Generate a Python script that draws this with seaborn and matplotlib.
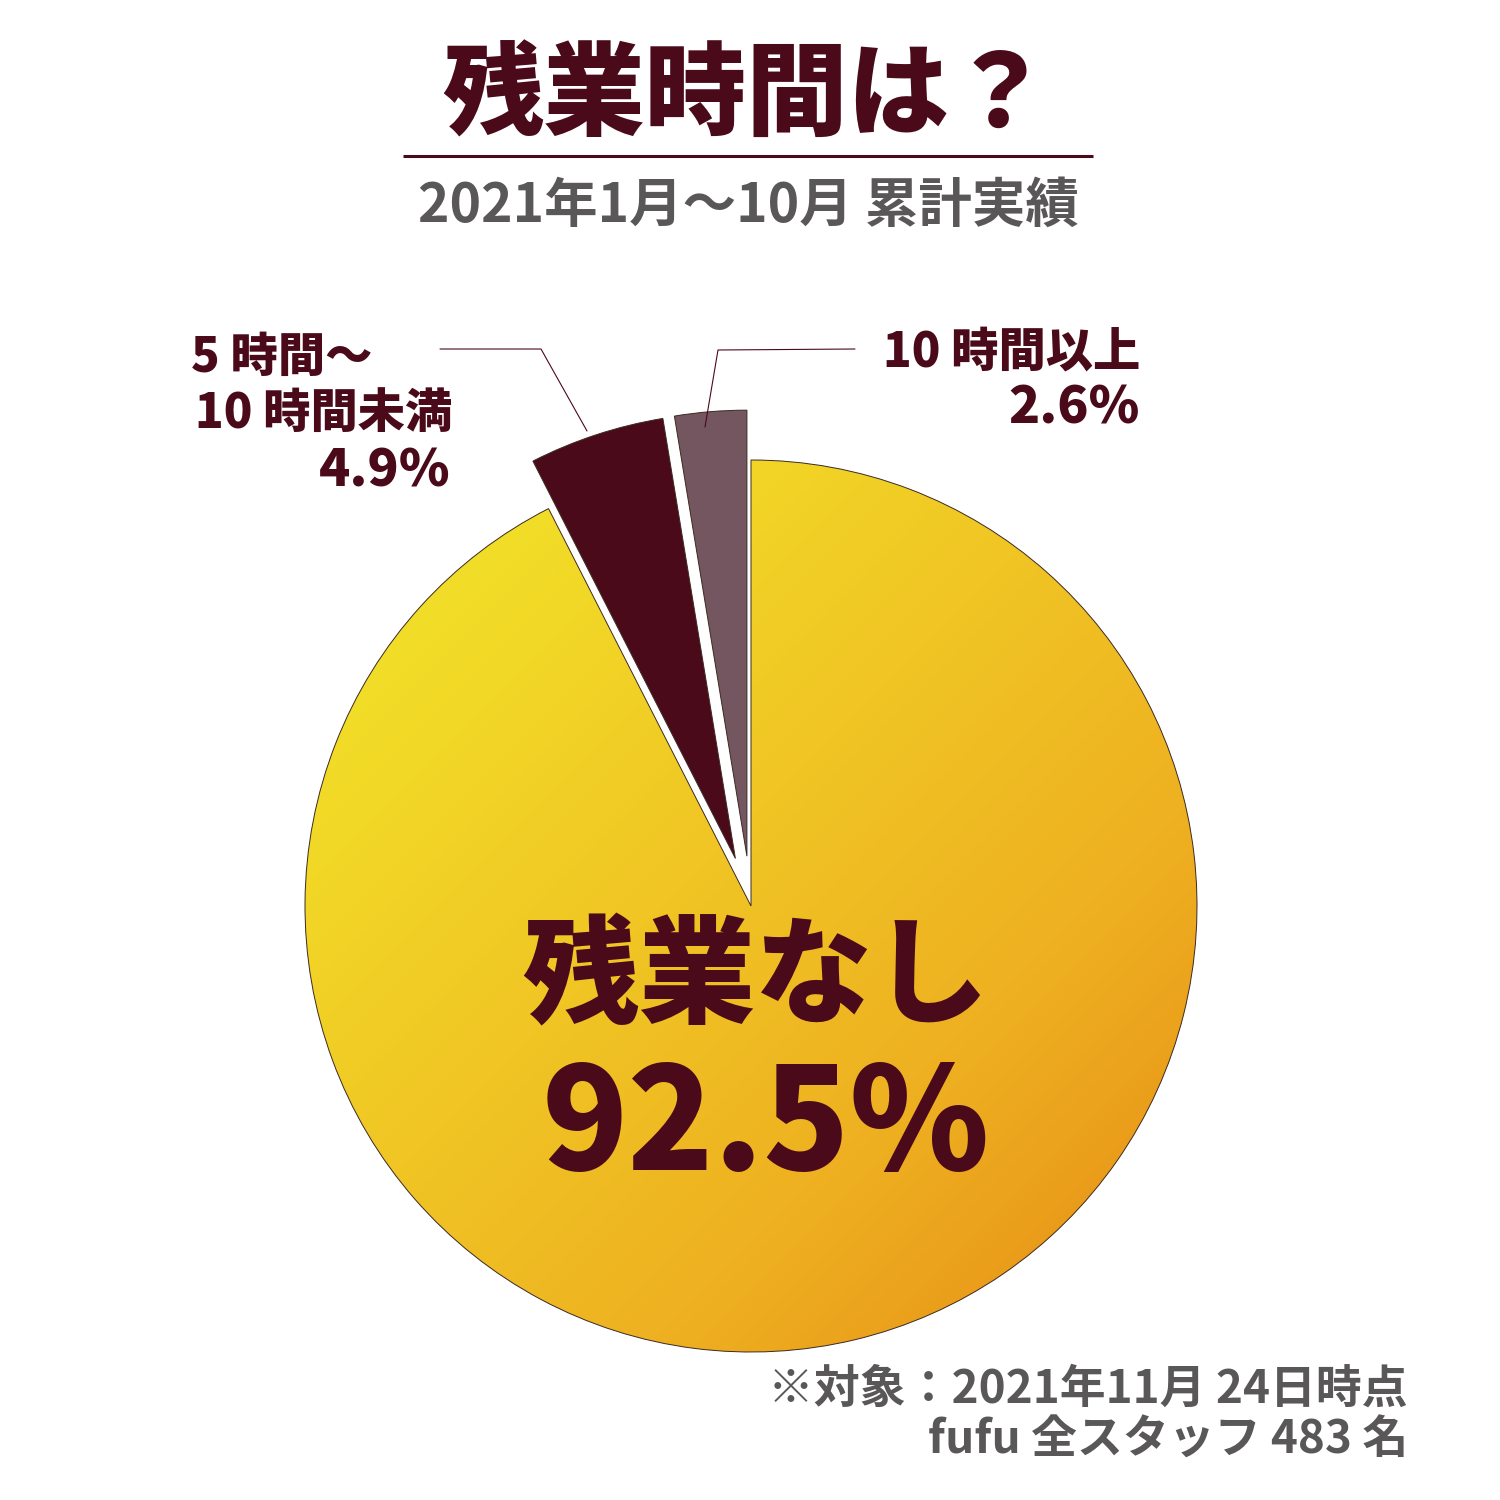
import numpy as np
import matplotlib
matplotlib.use("Agg")
import matplotlib.pyplot as plt
from matplotlib.colors import LinearSegmentedColormap
import seaborn as sns

# ---- data ----
categories = ["10 時間以上", "5 時間～10 時間未満", "残業なし"]
values = [2.6, 4.9, 92.5]
title = "残業時間は？"
subtitle = "2021年1月～10月 累計実績"
footer_lines = ["※対象：2021年11月 24日時点", "fufu 全スタッフ 483 名"]

sns.set_theme(style="white")
plt.rcParams["font.family"] = ["Noto Sans CJK JP", "DejaVu Sans"]

MAROON = "#4a0a1a"
MAUVE = "#735660"
GRAY = "#595757"

fig = plt.figure(figsize=(15, 15), dpi=100)
ax = fig.add_axes([0, 0, 1, 1])

def Y(y):
    return 1500 - y

R = 446
CX, CY = 751, Y(906)
explode = [50, 50, 0]          # offset in axis units (pixels here)
colors = [MAUVE, MAROON, "#efc822"]

wedges, _ = ax.pie(values, colors=colors, startangle=90, counterclock=True,
                   explode=explode, radius=R, center=(CX, CY),
                   wedgeprops=dict(linewidth=0.7, edgecolor="#3b2a22"),
                   frame=True)
ax.set_xlim(0, 1500)
ax.set_ylim(0, 1500)
ax.set_aspect("equal")
ax.axis("off")

# gradient fill for the big wedge
big = wedges[2]
big.set_facecolor("none")
big.set_zorder(3)
cmap = LinearSegmentedColormap.from_list(
    "grad", [(0.0, "#f1e82a"), (0.2, "#f2da27"), (0.7, "#eeb021"), (1.0, "#e68a14")])
n = 400
xs = np.linspace(-1, 1, n)
gx, gy = np.meshgrid(xs, xs)
t = (gx + gy) / 2.0
t = (t - t.min()) / (t.max() - t.min())
im = ax.imshow(t, cmap=cmap, extent=(CX - R, CX + R, CY - R, CY + R),
               origin="upper", zorder=2, interpolation="bilinear")
im.set_clip_path(big)
ax.set_xlim(0, 1500)
ax.set_ylim(0, 1500)

# title
ax.text(746, Y(97), title, ha="center", va="center", fontsize=73,
        fontweight="black", color=MAROON)
ax.plot([403, 1093], [Y(156), Y(156)], color=MAROON, lw=2.2, solid_capstyle="butt")
ax.text(748, Y(206), subtitle, ha="center", va="center", fontsize=38.5,
        fontweight="bold", color=GRAY)

# left label
lab_kw = dict(ha="right", va="center", fontsize=34, fontweight="black", color=MAROON)
ax.text(372, Y(358), "5 時間～", **lab_kw)
ax.text(452, Y(414), "10 時間未満", **lab_kw)
ax.text(450, Y(471), f"{values[1]}%", fontsize=37, ha="right", va="center",
        fontweight="black", color=MAROON)
ax.plot([440, 541, 587], [Y(349), Y(349), Y(431)], color=MAROON, lw=0.8)

# right label
ax.text(1140, Y(352), "10 時間以上", **lab_kw)
ax.text(1140, Y(408), f"{values[0]}%", fontsize=37, ha="right", va="center",
        fontweight="black", color=MAROON)
ax.plot([855, 718, 705], [Y(349), Y(350), Y(427)], color=MAROON, lw=0.8)

# big slice label
ax.text(755, Y(980), "残業なし", ha="center", va="center", fontsize=84,
        fontweight="black", color=MAROON, zorder=5)
ax.text(766, Y(1128), f"{values[2]}%", ha="center", va="center", fontsize=102,
        fontweight="black", color=MAROON, zorder=5)

# footer
ax.text(1408, Y(1390), footer_lines[0], ha="right", va="center", fontsize=33,
        fontweight="bold", color=GRAY)
ax.text(1408, Y(1441), footer_lines[1], ha="right", va="center", fontsize=33,
        fontweight="bold", color=GRAY)

fig.savefig("out.png", dpi=100, facecolor="white")
